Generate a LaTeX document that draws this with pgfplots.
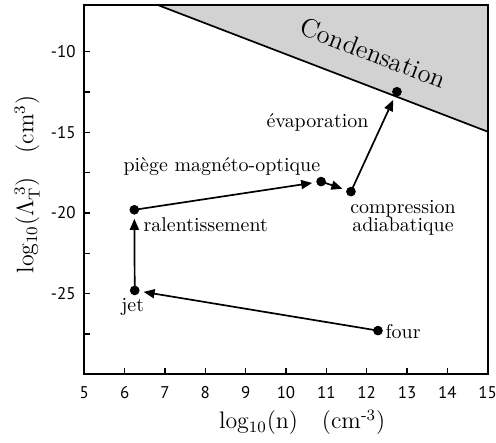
\documentclass[border=0pt]{standalone}
\usepackage{amsmath}
\usepackage[no-math]{fontspec}
\usepackage{pgfplots}
\pgfplotsset{compat=1.18}
\usetikzlibrary{arrows.meta}
\newfontfamily\tickfont{PT Sans}

\begin{document}
\begin{tikzpicture}
\begin{axis}[
    at={(0,0)}, anchor=south west,
    scale only axis,
    width=201.7bp, height=184.65bp,
    xmin=5, xmax=15, ymin=-30, ymax=-7.1,
    xtick={5,6,...,15},
    ytick={-25,-20,-15,-10},
    minor ytick={-27.5,-22.5,-17.5,-12.5},
    xtick pos=left, ytick pos=left,
    tick align=inside,
    major tick length=3bp, minor tick length=3bp,
    every tick/.style={black, line width=0.7bp},
    axis line style={line width=0.8bp},
    axis on top,
    /pgf/number format/assume math mode=true,
    ticklabel style={font=\tickfont\fontsize{8.5}{10}\selectfont},
    xticklabel style={anchor=center, yshift=-9.3bp},
    yticklabel style={anchor=east, inner sep=0pt, xshift=-4.2bp},
    xlabel={$\mathrm{log_{10}(n)}\quad(\mathrm{cm}^{\text{-}3})$},
    ylabel={$\mathrm{log_{10}}(\Lambda_{\mathrm{T}}^{\;3})\quad(\mathrm{cm}^3)$},
    label style={font=\large},
    xlabel style={at={(axis description cs:0.54,-0.13)}, anchor=center},
    ylabel style={at={(axis description cs:-0.142,0.514)}, anchor=center},
    clip=true,
]
% region de condensation
\addplot[fill=gray!35, draw=none] coordinates {(6.7,-6.985) (15.1,-15.05) (15.1,-6.9) (6.7,-6.9)};
\addplot[black, line width=0.85bp] coordinates {(6.7,-6.985) (15.1,-15.05)};

% etapes
\addplot[black, line width=0.85bp, -{Triangle[length=5.5bp,width=4.5bp]}, shorten >=4.5bp] coordinates {(12.28,-27.29) (6.25,-24.80)};
\addplot[black, line width=0.85bp, -{Triangle[length=5.5bp,width=4.5bp]}, shorten >=4.5bp] coordinates {(6.25,-24.80) (6.24,-19.80)};
\addplot[black, line width=0.85bp, -{Triangle[length=5.5bp,width=4.5bp]}, shorten >=4.5bp] coordinates {(6.24,-19.80) (10.87,-18.05)};
\addplot[black, line width=0.85bp, -{Triangle[length=5.5bp,width=4.5bp]}, shorten >=4.5bp] coordinates {(10.87,-18.05) (11.61,-18.67)};
\addplot[black, line width=0.85bp, -{Triangle[length=5.5bp,width=4.5bp]}, shorten >=4.5bp] coordinates {(11.61,-18.67) (12.75,-12.48)};

\addplot[only marks, mark=*, mark size=2.2bp, black] coordinates {
    (12.28,-27.29) (6.25,-24.80) (6.24,-19.80) (10.87,-18.05) (11.61,-18.67) (12.75,-12.48)
};

\node[anchor=base, inner sep=0pt] at (axis cs:6.20,-26.10) {jet};
\node[anchor=base west, inner sep=0pt] at (axis cs:12.46,-27.75) {four};
\node[anchor=base west, inner sep=0pt] at (axis cs:6.46,-21.15) {ralentissement};
\node[anchor=base, inner sep=0pt] at (axis cs:8.41,-17.43) {piège magnéto-optique};
\node[anchor=base, inner sep=0pt] at (axis cs:12.90,-20.05) {compression};
\node[anchor=base, inner sep=0pt] at (axis cs:12.90,-21.17) {adiabatique};
\node[anchor=base, inner sep=0pt] at (axis cs:10.78,-14.72) {évaporation};
\node[rotate=-21, inner sep=0pt, font=\fontsize{13.2}{15}\selectfont] at (axis cs:12.16,-10.08) {Condensation};
\end{axis}
\pgfresetboundingbox
\path (-42.15bp,-34.35bp) rectangle (205.85bp,187.15bp);
\end{tikzpicture}
\end{document}
